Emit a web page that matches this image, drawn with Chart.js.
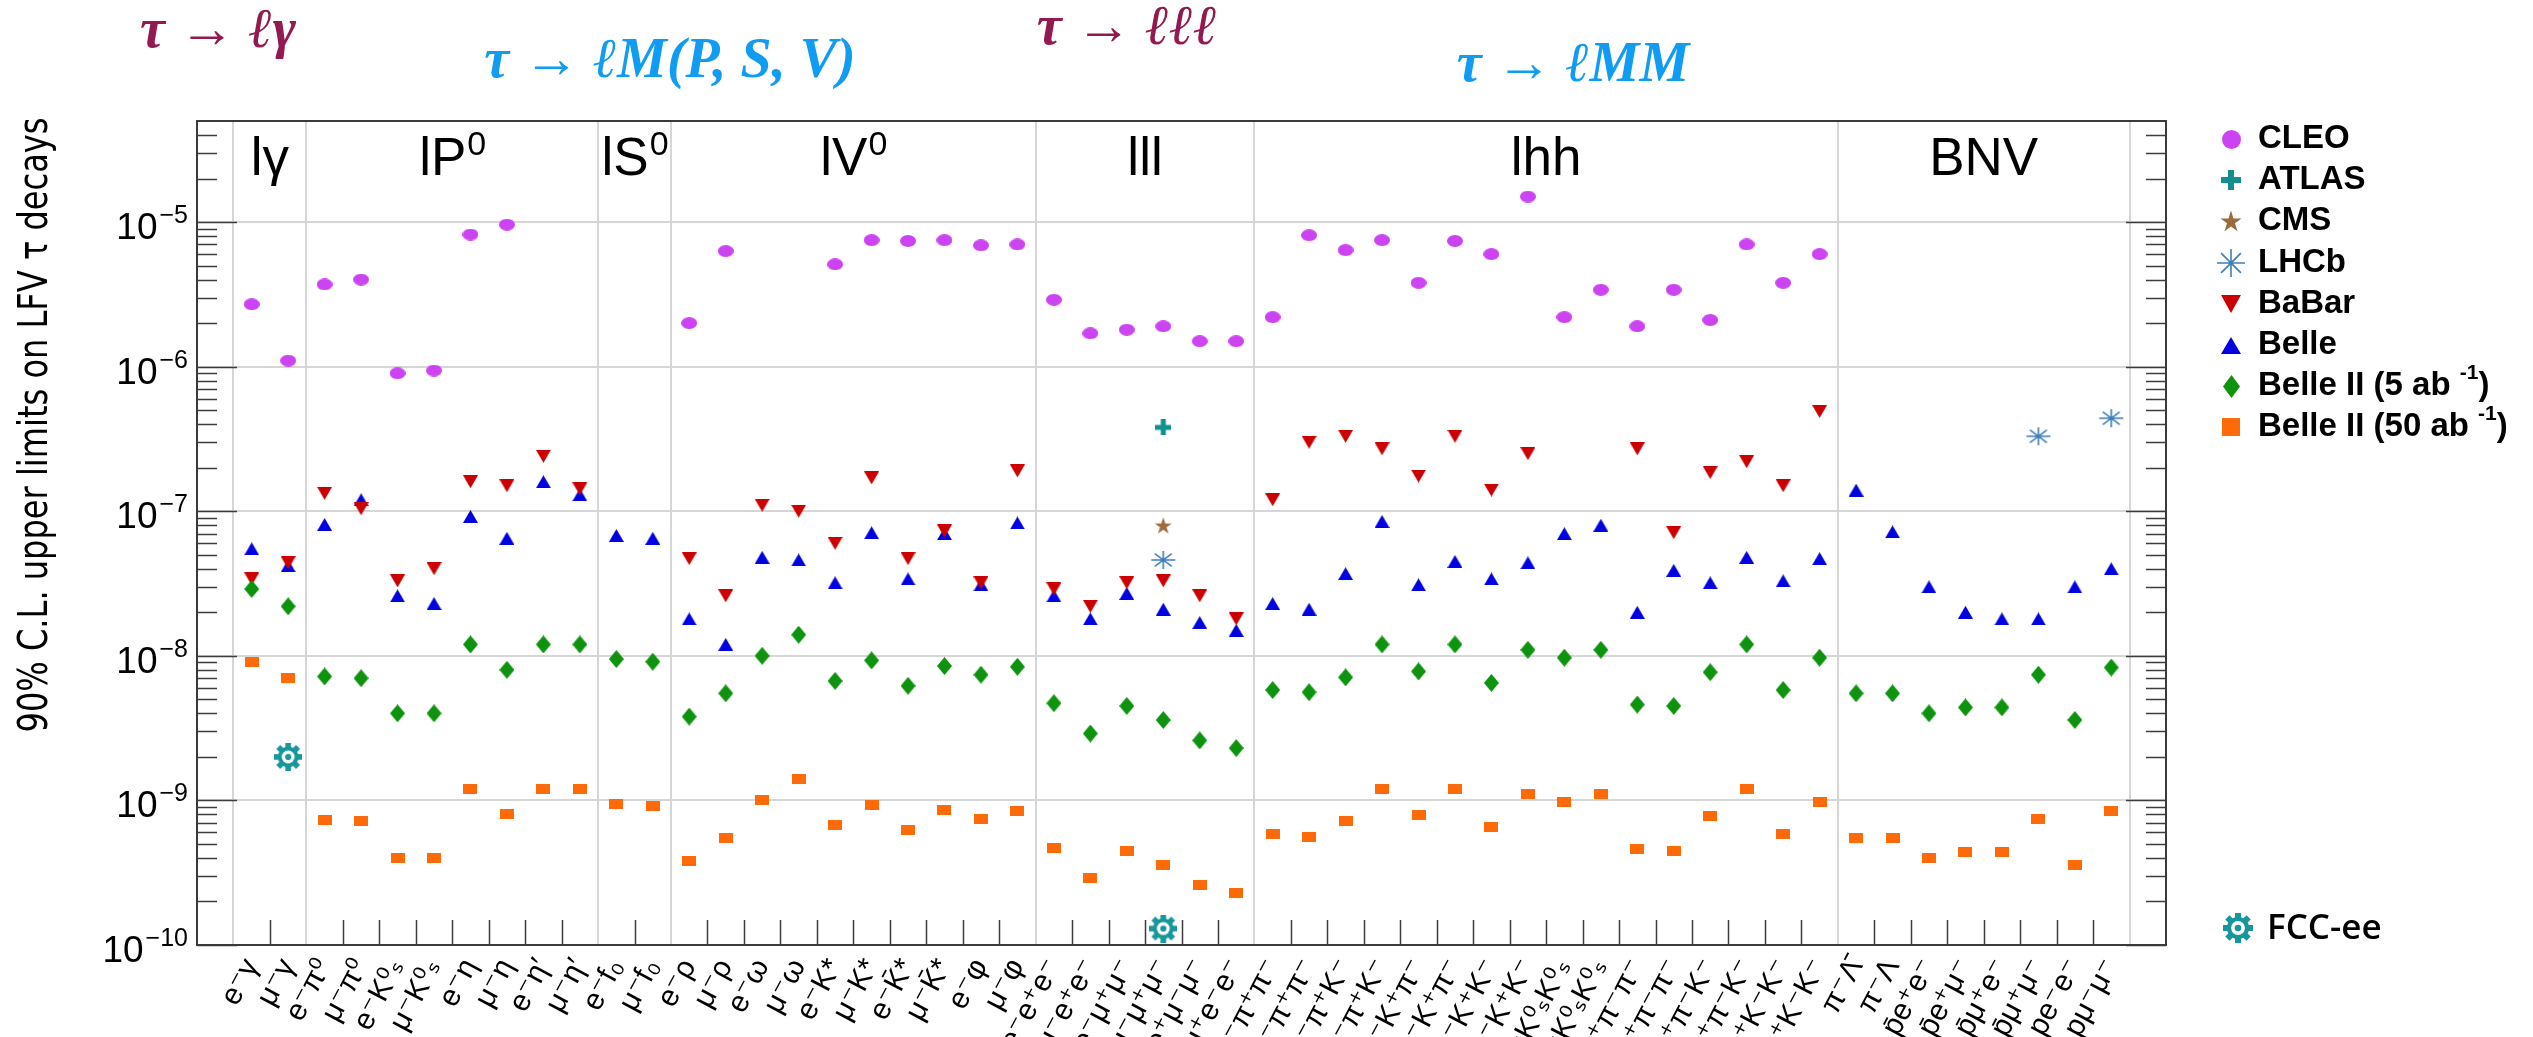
<!DOCTYPE html>
<html><head><meta charset="utf-8">
<script src="https://cdn.jsdelivr.net/npm/chart.js@4.4.1/dist/chart.umd.min.js"></script>
<style>html,body{margin:0;padding:0;background:#fff;overflow:hidden}</style>
</head><body>
<canvas id="c" width="2533" height="1037" style="width:2533px;height:1037px;display:block"></canvas>
<script>
// ---------------- DATA ----------------
const categories = ['e⁻γ','μ⁻γ',
 'e⁻π⁰','μ⁻π⁰','e⁻K⁰ₛ','μ⁻K⁰ₛ','e⁻η','μ⁻η','e⁻η′','μ⁻η′',
 'e⁻f₀','μ⁻f₀',
 'e⁻ρ','μ⁻ρ','e⁻ω','μ⁻ω','e⁻K*','μ⁻K*','e⁻K̄*','μ⁻K̄*','e⁻φ','μ⁻φ',
 'e⁻e⁺e⁻','μ⁻e⁺e⁻','e⁻μ⁺μ⁻','μ⁻μ⁺μ⁻','e⁺μ⁻μ⁻','μ⁺e⁻e⁻',
 'e⁻π⁺π⁻','μ⁻π⁺π⁻','e⁻π⁺K⁻','μ⁻π⁺K⁻','e⁻K⁺π⁻','μ⁻K⁺π⁻','e⁻K⁺K⁻','μ⁻K⁺K⁻','e⁻K⁰ₛK⁰ₛ','μ⁻K⁰ₛK⁰ₛ','e⁺π⁻π⁻','μ⁺π⁻π⁻','e⁺π⁻K⁻','μ⁺π⁻K⁻','e⁺K⁻K⁻','μ⁺K⁻K⁻',
 'π⁻Λ̄','π⁻Λ','p̄e⁺e⁻','p̄e⁺μ⁻','p̄μ⁺e⁻','p̄μ⁺μ⁻','pe⁻e⁻','pμ⁻μ⁻'];

const sectionNames = ['lγ','lP','lS','lV','lll','lhh','BNV'];
const sectionSups  = ['','0','0','0','','',''];
const sectionSizes = [2,8,2,10,6,16,8];

const seriesNames = ['CLEO','ATLAS','CMS','LHCb','BaBar','Belle','Belle II (5 ab','Belle II (50 ab'];

const cleo = [2.7e-6,1.1e-6,
 3.7e-6,4.0e-6,9.0e-7,9.4e-7,8.2e-6,9.6e-6,null,null,
 null,null,
 2.0e-6,6.3e-6,null,null,5.1e-6,7.5e-6,7.4e-6,7.5e-6,6.9e-6,7.0e-6,
 2.9e-6,1.7e-6,1.8e-6,1.9e-6,1.5e-6,1.5e-6,
 2.2e-6,8.1e-6,6.4e-6,7.5e-6,3.8e-6,7.4e-6,6.0e-6,1.5e-5,2.2e-6,3.4e-6,1.9e-6,3.4e-6,2.1e-6,7.0e-6,3.8e-6,6.0e-6,
 null,null,null,null,null,null,null,null];

const atlas = Array(52).fill(null); atlas[25] = 3.8e-7;
const cms   = Array(52).fill(null); cms[25] = 8.0e-8;
const lhcb  = Array(52).fill(null); lhcb[25] = 4.6e-8; lhcb[49] = 3.3e-7; lhcb[51] = 4.4e-7;

const babar = [3.4e-8,4.4e-8,
 1.33e-7,1.04e-7,3.3e-8,4.0e-8,1.6e-7,1.5e-7,2.4e-7,1.43e-7,
 null,null,
 4.7e-8,2.6e-8,1.1e-7,1.0e-7,6.0e-8,1.7e-7,4.7e-8,7.3e-8,3.2e-8,1.9e-7,
 2.9e-8,2.2e-8,3.2e-8,3.3e-8,2.6e-8,1.8e-8,
 1.2e-7,3.0e-7,3.3e-7,2.7e-7,1.75e-7,3.3e-7,1.4e-7,2.5e-7,null,null,2.7e-7,7.1e-8,1.85e-7,2.2e-7,1.5e-7,4.9e-7,
 null,null,null,null,null,null,null,null];

const belle = [5.5e-8,4.2e-8,
 8.1e-8,1.2e-7,2.6e-8,2.3e-8,9.2e-8,6.5e-8,1.6e-7,1.3e-7,
 6.8e-8,6.5e-8,
 1.8e-8,1.2e-8,4.8e-8,4.6e-8,3.2e-8,7.1e-8,3.4e-8,7.0e-8,3.1e-8,8.3e-8,
 2.6e-8,1.8e-8,2.7e-8,2.1e-8,1.7e-8,1.5e-8,
 2.3e-8,2.1e-8,3.7e-8,8.5e-8,3.1e-8,4.5e-8,3.4e-8,4.4e-8,7.0e-8,8.0e-8,2.0e-8,3.9e-8,3.2e-8,4.8e-8,3.3e-8,4.7e-8,
 1.4e-7,7.2e-8,3.0e-8,2.0e-8,1.8e-8,1.8e-8,3.0e-8,4.0e-8];

const belle2_5 = [2.9e-8,2.2e-8,
 7.2e-9,7.0e-9,4.0e-9,4.0e-9,1.2e-8,8.0e-9,1.2e-8,1.2e-8,
 9.5e-9,9.1e-9,
 3.8e-9,5.5e-9,1.0e-8,1.4e-8,6.7e-9,9.3e-9,6.2e-9,8.5e-9,7.4e-9,8.4e-9,
 4.7e-9,2.9e-9,4.5e-9,3.6e-9,2.6e-9,2.3e-9,
 5.8e-9,5.6e-9,7.1e-9,1.2e-8,7.8e-9,1.2e-8,6.5e-9,1.1e-8,9.7e-9,1.1e-8,4.6e-9,4.5e-9,7.7e-9,1.2e-8,5.8e-9,9.7e-9,
 5.5e-9,5.5e-9,4.0e-9,4.4e-9,4.4e-9,7.4e-9,3.6e-9,8.3e-9];

const belle2_50 = [9.1e-9,7.0e-9,
 7.3e-10,7.2e-10,4.0e-10,4.0e-10,1.2e-9,8.1e-10,1.2e-9,1.2e-9,
 9.5e-10,9.1e-10,
 3.8e-10,5.5e-10,1.0e-9,1.4e-9,6.8e-10,9.3e-10,6.2e-10,8.6e-10,7.4e-10,8.5e-10,
 4.7e-10,2.9e-10,4.5e-10,3.6e-10,2.6e-10,2.3e-10,
 5.9e-10,5.6e-10,7.2e-10,1.2e-9,7.9e-10,1.2e-9,6.5e-10,1.1e-9,9.8e-10,1.1e-9,4.6e-10,4.5e-10,7.8e-10,1.2e-9,5.9e-10,9.8e-10,
 5.5e-10,5.5e-10,4.0e-10,4.4e-10,4.4e-10,7.4e-10,3.6e-10,8.4e-10];

const fccee = Array(52).fill(null); fccee[1] = 2.0e-9; fccee[25] = 1.3e-10;

const yDecades = [1e-10,1e-9,1e-8,1e-7,1e-6,1e-5];
const yExponents = ['−10','−9','−8','−7','−6','−5'];
const yMin = 1e-10, yMax = 5e-5;

const titleTexts = ['τ → ℓγ','τ → ℓM(P, S, V)','τ → ℓℓℓ','τ → ℓMM'];
const yTitle = '90% C.L. upper limits on LFV τ decays';

// ---------------- MARKERS ----------------
function mk(w,h,fn){const c=document.createElement('canvas');c.width=w;c.height=h;const g=c.getContext('2d');fn(g,w,h);return c;}
const COL = {cleo:'#cc44f2',atlas:'#138f8f',cms:'#9c6b3c',lhcb:'#3d7fb8',babar:'#cc0000',belle:'#0000e0',b5:'#0e930e',b50:'#ff6a08',fcc:'#17979c'};
const ellipse=(w,h,c)=>mk(w,h,(g)=>{g.fillStyle=c;g.beginPath();g.ellipse(w/2,h/2,w/2,h/2,0,0,Math.PI*2);g.fill();});
const plus=(w,t,c)=>mk(w,w,(g)=>{g.fillStyle=c;g.fillRect(0,(w-t)/2,w,t);g.fillRect((w-t)/2,0,t,w);});
const star=(w,h,c)=>mk(w,h,(g)=>{g.fillStyle=c;g.beginPath();for(let i=0;i<10;i++){const r=i%2?0.38:1;const a=-Math.PI/2+i*Math.PI/5;const x=w/2+Math.cos(a)*r*w/2;const y=h/2+Math.sin(a)*r*h/2*1.05+1;i?g.lineTo(x,y):g.moveTo(x,y);}g.closePath();g.fill();});
const aster=(w,h,c)=>mk(w,h,(g)=>{g.strokeStyle=c;g.lineWidth=1.6;g.beginPath();for(let i=0;i<4;i++){const a=i*Math.PI/4;const dx=Math.cos(a)*(w/2-1),dy=Math.sin(a)*(h/2-1);g.moveTo(w/2-dx,h/2-dy);g.lineTo(w/2+dx,h/2+dy);}g.stroke();});
const triUp=(w,h,c)=>mk(w,h,(g)=>{g.fillStyle=c;g.beginPath();g.moveTo(w/2,0);g.lineTo(w,h);g.lineTo(0,h);g.closePath();g.fill();});
const triDn=(w,h,c)=>mk(w,h,(g)=>{g.fillStyle=c;g.beginPath();g.moveTo(0,0);g.lineTo(w,0);g.lineTo(w/2,h);g.closePath();g.fill();});
const diam=(w,h,c)=>mk(w,h,(g)=>{g.fillStyle=c;g.beginPath();g.moveTo(w/2,0);g.lineTo(w,h/2);g.lineTo(w/2,h);g.lineTo(0,h/2);g.closePath();g.fill();});
const rect=(w,h,c)=>mk(w,h,(g)=>{g.fillStyle=c;g.fillRect(0,0,w,h);});
const gear=(d,c)=>mk(d,d,(g)=>{const cx=d/2,cy=d/2,R=d/2;g.fillStyle=c;g.save();g.translate(cx,cy);for(let i=0;i<8;i++){g.save();g.rotate(i*Math.PI/4);g.fillRect(-R*0.2,-R,R*0.4,R*0.5);g.restore();}g.restore();g.beginPath();g.arc(cx,cy,R*0.74,0,Math.PI*2);g.fill();g.fillStyle='#fff';g.beginPath();g.arc(cx,cy,R*0.46,0,Math.PI*2);g.fill();g.fillStyle=c;g.beginPath();g.arc(cx,cy,R*0.22,0,Math.PI*2);g.fill();});

const M = {
 cleo: ellipse(16,12,COL.cleo), atlas: plus(16,5,COL.atlas), cms: star(18,17,COL.cms), lhcb: aster(26,20,COL.lhcb),
 babar: triDn(15,13,COL.babar), belle: triUp(15,13,COL.belle), b5: diam(15,18,COL.b5), b50: rect(14,10,COL.b50), fcc: gear(28,COL.fcc)
};
const L = {
 cleo: ellipse(19,19,COL.cleo), atlas: plus(20,6,COL.atlas), cms: star(22,22,COL.cms), lhcb: aster(30,30,COL.lhcb),
 babar: triDn(20,18,COL.babar), belle: triUp(20,17,COL.belle), b5: diam(17,23,COL.b5), b50: rect(18,18,COL.b50), fcc: gear(30,COL.fcc)
};

// ---------------- CHART ----------------
const labels = ['', ...categories, ''];
const pad = arr => [null, ...arr, null];
function ds(label, data, key, order){
  return {label, data: pad(data), showLine:false, pointStyle: M[key], pointRadius: 8, pointHoverRadius: 8,
          borderColor: COL[key], backgroundColor: COL[key], clip: false, order};
}
const datasets = [
  ds('CLEO', cleo, 'cleo', 1),
  ds('ATLAS', atlas, 'atlas', 1),
  ds('CMS', cms, 'cms', 1),
  ds('LHCb', lhcb, 'lhcb', 1),
  ds('BaBar', babar, 'babar', 2),
  ds('Belle', belle, 'belle', 3),
  ds('Belle II (5 ab-1)', belle2_5, 'b5', 1),
  ds('Belle II (50 ab-1)', belle2_50, 'b50', 1),
  ds('FCC-ee', fccee, 'fcc', 0)
];
const legendKeys = ['cleo','atlas','cms','lhcb','babar','belle','b5','b50'];

const boundaries = [1]; sectionSizes.forEach(s => boundaries.push(boundaries[boundaries.length-1] + s));

const SANS = '"Liberation Sans", "DejaVu Sans", Arial, sans-serif';
function edgePx(x, e){ return (x.getPixelForValue(e-1) + x.getPixelForValue(e)) / 2; }

const decor = {
  id: 'decor',
  afterDatasetsDraw(chart){
    const {ctx, chartArea:a, scales:{x,y}} = chart;
    ctx.save();
    ctx.strokeStyle = '#3c3c3c'; ctx.lineWidth = 1.5;
    ctx.beginPath();
    for (let n=-10; n<=-5; n++){
      for (let m=1; m<=9; m++){
        const v = m*Math.pow(10,n);
        if (v < yMin*0.999 || v >= yMax*0.999) continue;
        const py = Math.round(y.getPixelForValue(v)) + 0.5;
        const len = m===1 ? 40 : 20;
        ctx.moveTo(a.left, py); ctx.lineTo(a.left+len, py);
        ctx.moveTo(a.right, py); ctx.lineTo(a.right-len, py);
      }
    }
    for (let e=1; e<labels.length; e++){
      if (boundaries.includes(e)) continue;
      const px = Math.round(edgePx(x,e)) + 0.5;
      ctx.moveTo(px, a.bottom); ctx.lineTo(px, a.bottom-25);
    }
    ctx.stroke();
    ctx.lineWidth = 2; ctx.strokeStyle = '#3a3a3a';
    ctx.strokeRect(a.left, a.top, a.right-a.left, a.bottom-a.top);
    ctx.restore();
  },
  afterDraw(chart){
    const {ctx, chartArea:a, scales:{x,y}} = chart;
    ctx.save();
    ctx.fillStyle = '#000';
    ctx.textBaseline = 'alphabetic';
    yDecades.forEach((v,i) => {
      const py = y.getPixelForValue(v);
      ctx.font = '25px ' + SANS; ctx.textAlign = 'right';
      const ew = ctx.measureText(yExponents[i]).width;
      ctx.fillText(yExponents[i], a.left - 9, py + 1);
      ctx.font = '37px ' + SANS;
      ctx.fillText('10', a.left - 11 - ew, py + 17);
    });
    // y title
    ctx.save();
    ctx.translate(36, 425); ctx.rotate(-Math.PI/2);
    ctx.font = '41px "Liberation Sans Narrow", "DejaVu Sans Condensed", sans-serif';
    const tw = ctx.measureText(yTitle).width;
    ctx.scale(615 / tw, 1);
    ctx.textAlign = 'center'; ctx.textBaseline = 'middle';
    ctx.fillText(yTitle, 0, 0);
    ctx.restore();
    // section labels
    let start = 1;
    sectionNames.forEach((nm,i) => {
      const l = edgePx(x, start), r = edgePx(x, start + sectionSizes[i]);
      start += sectionSizes[i];
      ctx.font = '53px ' + SANS;
      const w1 = ctx.measureText(nm).width;
      ctx.font = '34px ' + SANS;
      const w2 = sectionSups[i] ? ctx.measureText(sectionSups[i]).width : 0;
      const x0 = (l + r)/2 - (w1 + w2)/2;
      ctx.textAlign = 'left';
      ctx.font = '53px ' + SANS; ctx.fillText(nm, x0, a.top + 54);
      if (w2){ ctx.font = '34px ' + SANS; ctx.fillText(sectionSups[i], x0 + w1 + 1, a.top + 34); }
    });
    // top titles
    const tpos = [[218,47,'#931a50'],[670,77,'#0f9cf2'],[1127,44,'#931a50'],[1573,81,'#0f9cf2']];
    ctx.font = 'italic bold 56px "Liberation Serif", "DejaVu Serif", serif';
    ctx.textAlign = 'center';
    titleTexts.forEach((t,i) => { ctx.fillStyle = tpos[i][2]; ctx.fillText(t, tpos[i][0], tpos[i][1]); });
    // legend
    ctx.fillStyle = '#000'; ctx.textAlign = 'left'; ctx.textBaseline = 'middle';
    legendKeys.forEach((k,i) => {
      const cy = 139 + i*41.2;
      const img = L[k];
      ctx.drawImage(img, Math.round(2231 - img.width/2), Math.round(cy - img.height/2));
      ctx.font = 'bold 33px ' + SANS;
      ctx.fillText(seriesNames[i], 2258, cy);
      if (i >= 6){
        let xx = 2258 + ctx.measureText(seriesNames[i] + ' ').width;
        ctx.font = 'bold 21px ' + SANS; ctx.fillText('-1', xx, cy - 13);
        xx += ctx.measureText('-1').width;
        ctx.font = 'bold 33px ' + SANS; ctx.fillText(')', xx, cy);
      }
    });
    ctx.drawImage(L.fcc, 2238 - 15, 928 - 15);
    ctx.font = '600 35px "Open Sans", "Noto Sans", sans-serif';
    ctx.fillText('FCC-ee', 2267, 929);
    ctx.restore();
  }
};

new Chart(document.getElementById('c'), {
  type: 'line',
  data: { labels, datasets },
  options: {
    responsive: false, animation: false, devicePixelRatio: 1,
    layout: { padding: { left: 0, top: 121, right: 367, bottom: 0 } },
    plugins: { legend: { display: false }, tooltip: { enabled: false } },
    scales: {
      x: {
        type: 'category', offset: true,
        grid: { offset: true, drawTicks: false, lineWidth: 2,
                color: c => boundaries.includes(c.index) ? '#d6d6d6' : 'rgba(0,0,0,0)' },
        border: { display: false },
        ticks: { autoSkip: false, maxRotation: 62, minRotation: 62, padding: 8, color: '#000',
                 font: { family: SANS, size: 30 } },
        afterFit: s => { s.height = 92; }
      },
      y: {
        type: 'logarithmic', min: yMin, max: yMax,
        afterBuildTicks: s => { s.ticks = yDecades.map(v => ({ value: v })); },
        grid: { color: '#d6d6d6', lineWidth: 2, drawTicks: false },
        border: { display: false },
        ticks: { display: false },
        afterFit: s => { s.width = 197; }
      }
    }
  },
  plugins: [decor]
});
</script>
</body></html>
